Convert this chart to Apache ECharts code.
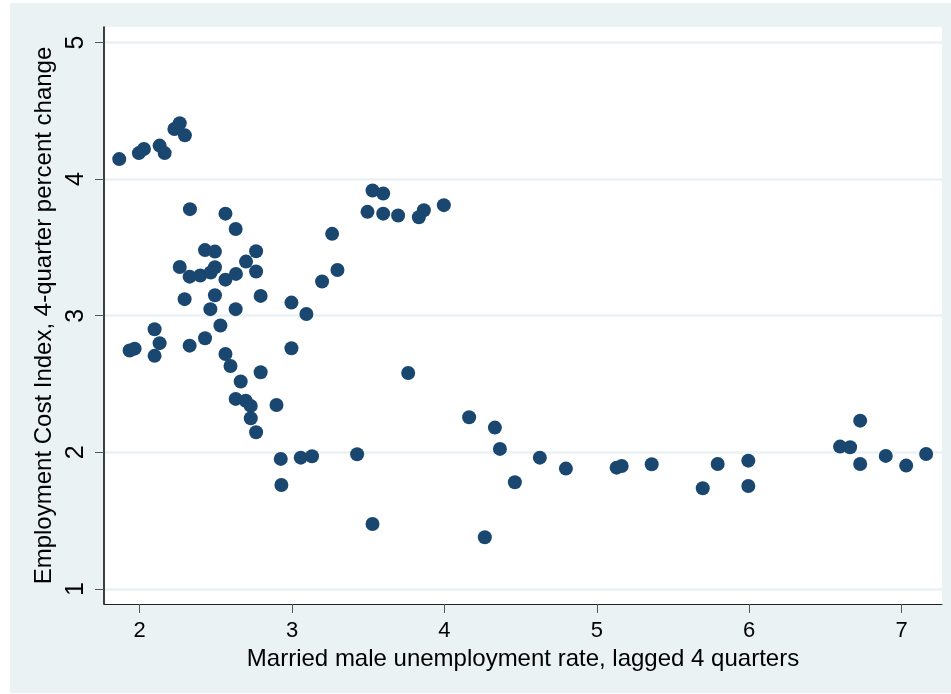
<!DOCTYPE html>
<html>
<head>
<meta charset="utf-8">
<script src="https://cdn.jsdelivr.net/npm/echarts@6/dist/echarts.min.js"></script>
<style>
  html, body { margin: 0; padding: 0; background: #ffffff; }
  #frame { position: absolute; left: 10px; top: 3px; width: 941px; height: 690px; background: #eaf2f3; }
  #chart { position: absolute; left: 0; top: 0; width: 951px; height: 694px; }
</style>
</head>
<body>
<div id="frame"></div>
<div id="chart"></div>
<script>
// Married male unemployment rate, lagged 4 quarters (x)
const unemploymentLag = [
  1.866, 1.995, 2.028, 2.131, 2.164, 2.228, 2.263, 2.297, 2.330, 2.563,
  2.630, 3.263, 2.429, 2.494, 2.764, 2.263, 2.698, 3.298, 2.494, 2.328,
  2.398, 2.466, 2.563, 2.632, 2.764, 3.197, 2.295, 2.494, 2.794, 2.996,
  2.464, 2.630, 3.094, 2.098, 2.530, 2.131, 2.429, 1.934, 1.967, 2.328,
  2.996, 2.098, 2.563, 2.596, 2.794, 2.663, 2.630, 2.696, 2.729, 2.898,
  2.729, 2.764, 2.926, 3.057, 3.131, 3.528, 3.598, 3.495, 3.598, 3.696,
  3.832, 3.865, 3.996, 3.762, 3.427, 2.930, 3.528, 4.162, 4.331, 4.364,
  4.626, 4.462, 4.265, 4.797, 5.130, 5.163, 5.360, 5.695, 5.793, 5.994,
  5.994, 6.596, 6.662, 6.728, 6.728, 6.896, 7.030, 7.161
];
// Employment Cost Index, 4-quarter percent change (y)
const eciChange = [
  4.146, 4.190, 4.220, 4.245, 4.190, 4.367, 4.409, 4.320, 3.780, 3.747,
  3.635, 3.599, 3.480, 3.469, 3.472, 3.357, 3.396, 3.335, 3.355, 3.286,
  3.294, 3.316, 3.264, 3.306, 3.323, 3.250, 3.121, 3.150, 3.145, 3.096,
  3.048, 3.048, 3.013, 2.901, 2.928, 2.799, 2.835, 2.745, 2.759, 2.781,
  2.762, 2.706, 2.720, 2.632, 2.586, 2.518, 2.391, 2.378, 2.340, 2.347,
  2.250, 2.147, 1.952, 1.961, 1.971, 3.916, 3.894, 3.760, 3.747, 3.733,
  3.721, 3.772, 3.809, 2.581, 1.986, 1.761, 1.476, 2.257, 2.181, 2.025,
  1.961, 1.781, 1.378, 1.881, 1.888, 1.900, 1.913, 1.737, 1.915, 1.939,
  1.754, 2.042, 2.037, 2.232, 1.915, 1.974, 1.903, 1.988
];
const xTicks = [2, 3, 4, 5, 6, 7];
const yTicks = [1, 2, 3, 4, 5];

const points = unemploymentLag.map((x, i) => [x, eciChange[i]]);
const font = 'Liberation Sans, Arial, sans-serif';

const chart = echarts.init(document.getElementById('chart'), null, { renderer: 'canvas' });
chart.setOption({
  backgroundColor: 'transparent',
  animation: false,
  grid: {
    left: 104, right: 9, top: 27, bottom: 90,
    show: true, backgroundColor: '#ffffff', borderWidth: 0
  },
  xAxis: {
    type: 'value',
    min: 1.766, max: 7.265,
    name: 'Married male unemployment rate, lagged 4 quarters',
    nameLocation: 'middle',
    nameGap: 38,
    nameTextStyle: { fontFamily: font, fontSize: 24, color: '#000' },
    axisLine: { show: true, onZero: false, lineStyle: { color: '#222', width: 1 } },
    axisTick: { show: true, inside: false, length: 9, customValues: xTicks, lineStyle: { color: '#555', width: 1 } },
    axisLabel: { customValues: xTicks, margin: 16, fontFamily: font, fontSize: 22, color: '#000' },
    splitLine: { show: false }
  },
  yAxis: {
    type: 'value',
    min: 0.89, max: 5.113,
    name: 'Employment Cost Index, 4-quarter percent change',
    nameLocation: 'middle',
    nameGap: 41,
    nameRotate: 90,
    nameTextStyle: { fontFamily: font, fontSize: 24, color: '#000' },
    axisLine: { show: true, onZero: false, lineStyle: { color: '#000', width: 1.5 } },
    axisTick: { show: true, inside: false, length: 9, customValues: yTicks, lineStyle: { color: '#555', width: 1 } },
    axisLabel: { customValues: yTicks, rotate: 90, margin: 15, fontFamily: font, fontSize: 25, color: '#000' },
    splitLine: { show: true, lineStyle: { color: '#eaf2f3', width: 2.5 } }
  },
  series: [{
    type: 'scatter',
    data: points,
    symbol: 'circle',
    symbolSize: 14,
    itemStyle: { color: '#1a476f', opacity: 1 }
  }]
});
</script>
</body>
</html>
